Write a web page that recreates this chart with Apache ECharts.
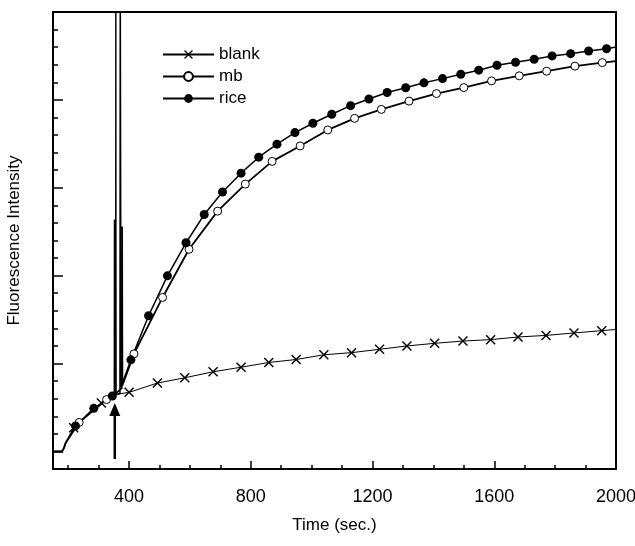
<!DOCTYPE html>
<html>
<head>
<meta charset="utf-8">
<script src="https://cdn.jsdelivr.net/npm/echarts@6/dist/echarts.min.js"></script>
<style>
  html, body { margin: 0; padding: 0; background: #fff; }
  #chart { width: 635px; height: 546px; }
</style>
</head>
<body>
<div id="chart"></div>
<script>
// x axis (time, s)
const xMin = 150;
const xMax = 2000;
const xMajorTicks = [400, 800, 1200, 1600, 2000];
const xMinorTicks = [200, 300, 500, 600, 700, 900, 1000, 1100, 1300, 1400, 1500, 1700, 1800, 1900];
// y axis (arbitrary units, no labels)
const yMin = 0;
const yMax = 26;
const yMajorTicks = [1, 6, 11, 16, 21];
const yMinorTicks = [1, 2, 3, 4, 5, 6, 7, 8, 9, 10, 11, 12, 13, 14, 15, 16, 17, 18, 19, 20, 21, 22, 23, 24, 25];

// points with a marker: [time, intensity]
const blankMarks = [
  [218, 2.35], [309, 3.75], [400, 4.36], [493, 4.89], [583, 5.19], [676, 5.53], [768, 5.79],
  [859, 6.06], [949, 6.23], [1040, 6.5], [1131, 6.62], [1223, 6.81], [1313, 7.0], [1404, 7.15],
  [1497, 7.28], [1588, 7.36], [1678, 7.51], [1770, 7.6], [1862, 7.74], [1953, 7.87]
];
const mbMarks = [
  [236, 2.65], [326, 3.95], [416, 6.55], [510, 9.76], [597, 12.5], [691, 14.67], [782, 16.21],
  [870, 17.5], [962, 18.38], [1053, 19.29], [1141, 19.95], [1229, 20.46], [1320, 20.93],
  [1410, 21.36], [1500, 21.7], [1591, 22.08], [1682, 22.37], [1772, 22.63], [1865, 22.92], [1955, 23.12]
];
const riceMarks = [
  [224, 2.45], [284, 3.45], [345, 4.15], [406, 6.21], [464, 8.72], [526, 10.99], [587, 12.87],
  [647, 14.48], [707, 15.76], [768, 16.83], [826, 17.74], [886, 18.48], [945, 19.14], [1004, 19.67],
  [1066, 20.18], [1128, 20.67], [1188, 21.05], [1248, 21.42], [1309, 21.69], [1369, 21.97],
  [1430, 22.21], [1490, 22.46], [1549, 22.69], [1609, 22.97], [1670, 23.14], [1731, 23.31],
  [1790, 23.5], [1851, 23.63], [1910, 23.78], [1969, 23.91]
];

// points without a marker (start of run, injection spikes, end of run)
const startPts = [[150, 1.0], [180, 1.0], [186, 1.2], [192, 1.5]];
const blankPlain = [[340, 4.1], [355, 4.2], [356.5, 28], [357, 28], [358, 4.25], [2000, 7.94]];
const mbPlain = [[345, 4.15], [352, 4.2], [352.6, 14.2], [353.3, 4.25], [376, 4.6], [377, 13.8], [378, 4.75], [2000, 23.2]];
const ricePlain = [[370, 4.3], [371, 28], [373, 28], [373.5, 4.66], [2000, 24.01]];

// injection arrow: shaft from arrowFrom up to the tip at arrowTo
const arrowX = 353;
const arrowFrom = 0.57;
const arrowHeadBase = 3.2;
const arrowTo = 3.75;

const FONT = 'Liberation Sans, Arial, sans-serif';
const xSymbol = 'path://M0,1L1,0L5,4L9,0L10,1L6,5L10,9L9,10L5,6L1,10L0,9L4,5Z';

function buildData(marks, plain) {
  const pts = [];
  startPts.concat(plain).forEach(p => pts.push({ value: p, symbol: 'none' }));
  marks.forEach(p => pts.push({ value: p }));
  pts.sort((a, b) => a.value[0] - b.value[0]);
  return pts;
}

const chart = echarts.init(document.getElementById('chart'));

chart.setOption({
  animation: false,
  backgroundColor: '#fff',
  grid: {
    left: 53, right: 19, top: 12, bottom: 77,
    show: true, borderColor: '#000', borderWidth: 2,
    outerBoundsMode: 'none'
  },
  legend: {
    orient: 'vertical',
    left: 162,
    top: 46,
    padding: 0,
    itemWidth: 51,
    itemHeight: 11,
    itemGap: 5,
    textStyle: { color: '#000', fontSize: 17, fontFamily: FONT },
    data: ['blank', 'mb', 'rice']
  },
  xAxis: [
    {
      type: 'value', min: xMin, max: xMax, position: 'bottom',
      name: 'Time (sec.)', nameLocation: 'middle', nameGap: 48,
      nameTextStyle: { color: '#000', fontSize: 17, fontFamily: FONT },
      axisLine: { lineStyle: { color: '#000', width: 2 } },
      axisTick: { inside: true, length: 8, customValues: xMajorTicks, lineStyle: { color: '#000', width: 1.5 } },
      axisLabel: {
        customValues: xMajorTicks, color: '#000', fontSize: 18, fontFamily: FONT, margin: 19,
        formatter: v => String(v)
      },
      splitLine: { show: false }
    },
    {
      type: 'value', min: xMin, max: xMax, position: 'bottom',
      axisLine: { show: false },
      axisTick: { inside: true, length: 4, customValues: xMinorTicks, lineStyle: { color: '#000', width: 1.5 } },
      axisLabel: { show: false },
      splitLine: { show: false }
    }
  ],
  yAxis: [
    {
      type: 'value', min: yMin, max: yMax, position: 'left',
      name: 'Fluorescence Intensity', nameLocation: 'middle', nameGap: 30,
      nameTextStyle: { color: '#000', fontSize: 17, fontFamily: FONT },
      axisLine: { show: true, lineStyle: { color: '#000', width: 2 } },
      axisTick: { show: true, inside: true, length: 10, customValues: yMajorTicks, lineStyle: { color: '#000', width: 1.5 } },
      axisLabel: { show: false },
      splitLine: { show: false }
    },
    {
      type: 'value', min: yMin, max: yMax, position: 'left',
      axisLine: { show: false },
      axisTick: { show: true, inside: true, length: 5, customValues: yMinorTicks, lineStyle: { color: '#000', width: 1.5 } },
      axisLabel: { show: false },
      splitLine: { show: false }
    }
  ],
  series: [
    {
      name: 'blank', type: 'line',
      data: buildData(blankMarks, blankPlain),
      symbol: xSymbol, symbolSize: 10,
      showAllSymbol: true,
      lineStyle: { color: '#000', width: 1 },
      itemStyle: { color: '#000' }
    },
    {
      name: 'mb', type: 'line',
      data: buildData(mbMarks, mbPlain),
      symbol: 'circle', symbolSize: 8,
      showAllSymbol: true,
      lineStyle: { color: '#000', width: 1.8 },
      itemStyle: { color: '#fff', borderColor: '#000', borderWidth: 1 }
    },
    {
      name: 'rice', type: 'line',
      data: buildData(riceMarks, ricePlain),
      symbol: 'circle', symbolSize: 9,
      showAllSymbol: true,
      lineStyle: { color: '#000', width: 1.5 },
      itemStyle: { color: '#000' }
    },
    {
      name: 'arrow', type: 'line', silent: true, z: 5,
      data: [[arrowX, arrowFrom], [arrowX, arrowHeadBase]],
      showSymbol: false,
      lineStyle: { color: '#000', width: 2.5 }
    },
    {
      name: 'arrowHead', type: 'scatter', silent: true, z: 5,
      data: [[arrowX, arrowTo]],
      symbol: 'triangle', symbolSize: [11, 13], symbolOffset: [0, 6.5],
      itemStyle: { color: '#000', opacity: 1 }
    }
  ]
});
</script>
</body>
</html>
